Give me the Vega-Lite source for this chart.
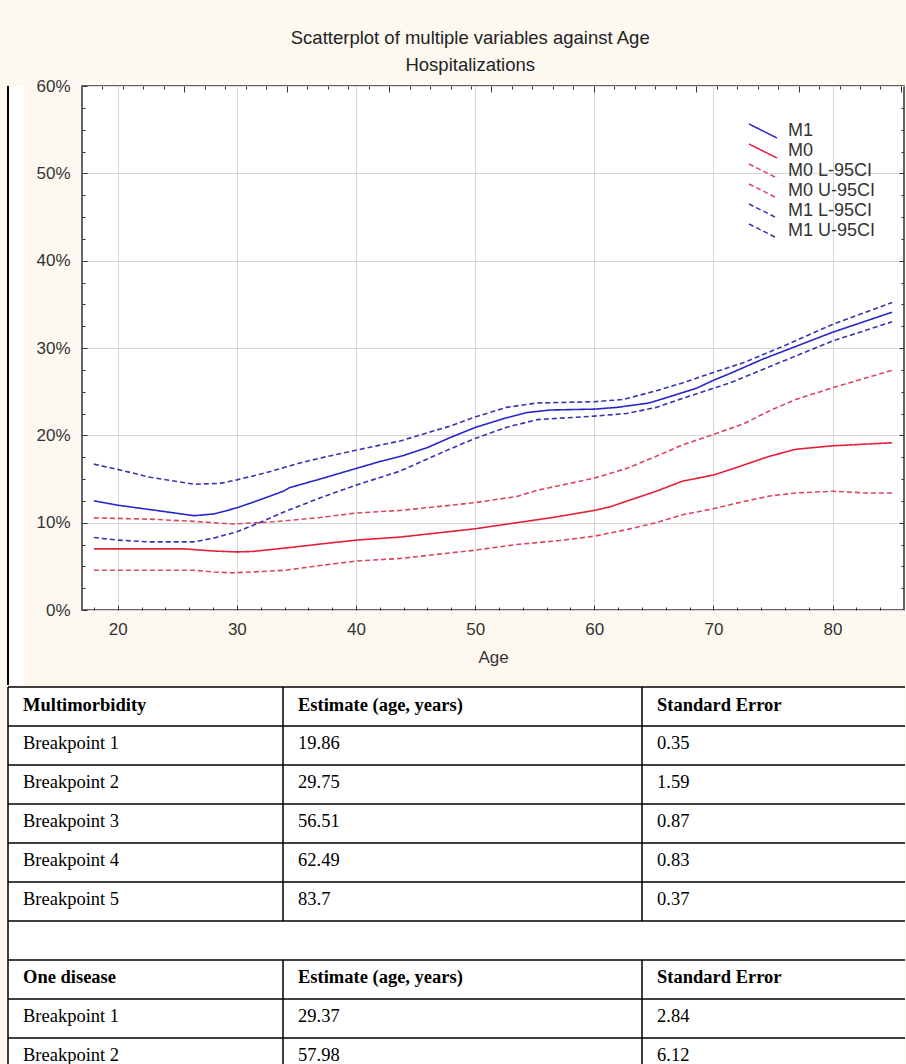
{
  "$schema": "https://vega.github.io/schema/vega-lite/v6.json",
  "background": "#fdf9f1",
  "padding": {"left": 7, "top": 27, "right": 0, "bottom": 0},
  "spacing": 0,
  "datasets": {
    "curves": [
      {"series": "M1", "age": 18, "value": 12.5}, {"series": "M1", "age": 20, "value": 12.0}, {"series": "M1", "age": 22.7, "value": 11.5}, {"series": "M1", "age": 26.4, "value": 10.8}, {"series": "M1", "age": 28.1, "value": 11.0}, {"series": "M1", "age": 30, "value": 11.7}, {"series": "M1", "age": 31.9, "value": 12.6}, {"series": "M1", "age": 33.9, "value": 13.6}, {"series": "M1", "age": 34.4, "value": 14.0}, {"series": "M1", "age": 37, "value": 15.0}, {"series": "M1", "age": 40, "value": 16.2}, {"series": "M1", "age": 42, "value": 17.0}, {"series": "M1", "age": 44, "value": 17.7}, {"series": "M1", "age": 46, "value": 18.6}, {"series": "M1", "age": 48, "value": 19.8}, {"series": "M1", "age": 50, "value": 20.9}, {"series": "M1", "age": 52.6, "value": 22.0}, {"series": "M1", "age": 54.3, "value": 22.6}, {"series": "M1", "age": 56.3, "value": 22.9}, {"series": "M1", "age": 60, "value": 23.0}, {"series": "M1", "age": 61.9, "value": 23.2}, {"series": "M1", "age": 64.6, "value": 23.7}, {"series": "M1", "age": 66.5, "value": 24.5}, {"series": "M1", "age": 68.6, "value": 25.4}, {"series": "M1", "age": 70, "value": 26.3}, {"series": "M1", "age": 71.6, "value": 27.2}, {"series": "M1", "age": 74.1, "value": 28.7}, {"series": "M1", "age": 76.1, "value": 29.75}, {"series": "M1", "age": 80, "value": 31.8}, {"series": "M1", "age": 85, "value": 34.1},
      {"series": "M0", "age": 18, "value": 7.0}, {"series": "M0", "age": 25.6, "value": 7.0}, {"series": "M0", "age": 28.1, "value": 6.75}, {"series": "M0", "age": 30, "value": 6.65}, {"series": "M0", "age": 31.3, "value": 6.7}, {"series": "M0", "age": 34.1, "value": 7.1}, {"series": "M0", "age": 37, "value": 7.55}, {"series": "M0", "age": 40, "value": 8.0}, {"series": "M0", "age": 43.7, "value": 8.35}, {"series": "M0", "age": 48, "value": 9.0}, {"series": "M0", "age": 50, "value": 9.3}, {"series": "M0", "age": 53.5, "value": 10.0}, {"series": "M0", "age": 56.3, "value": 10.55}, {"series": "M0", "age": 60, "value": 11.4}, {"series": "M0", "age": 61.3, "value": 11.8}, {"series": "M0", "age": 62.7, "value": 12.45}, {"series": "M0", "age": 65.2, "value": 13.6}, {"series": "M0", "age": 67.4, "value": 14.75}, {"series": "M0", "age": 70, "value": 15.45}, {"series": "M0", "age": 71.9, "value": 16.3}, {"series": "M0", "age": 74.7, "value": 17.6}, {"series": "M0", "age": 76.9, "value": 18.4}, {"series": "M0", "age": 80, "value": 18.8}, {"series": "M0", "age": 85, "value": 19.15},
      {"series": "M0 L-95CI", "age": 18, "value": 4.55}, {"series": "M0 L-95CI", "age": 26.4, "value": 4.55}, {"series": "M0 L-95CI", "age": 28.1, "value": 4.35}, {"series": "M0 L-95CI", "age": 29.7, "value": 4.25}, {"series": "M0 L-95CI", "age": 34.1, "value": 4.55}, {"series": "M0 L-95CI", "age": 37, "value": 5.1}, {"series": "M0 L-95CI", "age": 40, "value": 5.6}, {"series": "M0 L-95CI", "age": 43.7, "value": 5.9}, {"series": "M0 L-95CI", "age": 48, "value": 6.55}, {"series": "M0 L-95CI", "age": 50, "value": 6.85}, {"series": "M0 L-95CI", "age": 53.5, "value": 7.5}, {"series": "M0 L-95CI", "age": 57.1, "value": 7.95}, {"series": "M0 L-95CI", "age": 60, "value": 8.45}, {"series": "M0 L-95CI", "age": 62.7, "value": 9.2}, {"series": "M0 L-95CI", "age": 65.2, "value": 10.0}, {"series": "M0 L-95CI", "age": 67.4, "value": 10.9}, {"series": "M0 L-95CI", "age": 70, "value": 11.6}, {"series": "M0 L-95CI", "age": 72.5, "value": 12.4}, {"series": "M0 L-95CI", "age": 74.7, "value": 13.05}, {"series": "M0 L-95CI", "age": 76.9, "value": 13.4}, {"series": "M0 L-95CI", "age": 80, "value": 13.6}, {"series": "M0 L-95CI", "age": 82.8, "value": 13.4}, {"series": "M0 L-95CI", "age": 85, "value": 13.4},
      {"series": "M0 U-95CI", "age": 18, "value": 10.55}, {"series": "M0 U-95CI", "age": 22.7, "value": 10.4}, {"series": "M0 U-95CI", "age": 26.4, "value": 10.15}, {"series": "M0 U-95CI", "age": 29.7, "value": 9.85}, {"series": "M0 U-95CI", "age": 33.1, "value": 10.1}, {"series": "M0 U-95CI", "age": 37, "value": 10.6}, {"series": "M0 U-95CI", "age": 40, "value": 11.1}, {"series": "M0 U-95CI", "age": 43.7, "value": 11.4}, {"series": "M0 U-95CI", "age": 48, "value": 12.0}, {"series": "M0 U-95CI", "age": 50, "value": 12.3}, {"series": "M0 U-95CI", "age": 53.5, "value": 13.0}, {"series": "M0 U-95CI", "age": 55.2, "value": 13.7}, {"series": "M0 U-95CI", "age": 60, "value": 15.1}, {"series": "M0 U-95CI", "age": 62.7, "value": 16.2}, {"series": "M0 U-95CI", "age": 65.2, "value": 17.6}, {"series": "M0 U-95CI", "age": 67.4, "value": 18.9}, {"series": "M0 U-95CI", "age": 70, "value": 20.1}, {"series": "M0 U-95CI", "age": 72.5, "value": 21.3}, {"series": "M0 U-95CI", "age": 74.7, "value": 22.8}, {"series": "M0 U-95CI", "age": 76.9, "value": 24.1}, {"series": "M0 U-95CI", "age": 80, "value": 25.45}, {"series": "M0 U-95CI", "age": 85, "value": 27.45},
      {"series": "M1 L-95CI", "age": 18, "value": 8.3}, {"series": "M1 L-95CI", "age": 20, "value": 8.0}, {"series": "M1 L-95CI", "age": 22.7, "value": 7.8}, {"series": "M1 L-95CI", "age": 26.4, "value": 7.8}, {"series": "M1 L-95CI", "age": 28.1, "value": 8.25}, {"series": "M1 L-95CI", "age": 30, "value": 8.95}, {"series": "M1 L-95CI", "age": 31.9, "value": 10.0}, {"series": "M1 L-95CI", "age": 33.9, "value": 11.2}, {"series": "M1 L-95CI", "age": 37, "value": 12.85}, {"series": "M1 L-95CI", "age": 40, "value": 14.3}, {"series": "M1 L-95CI", "age": 43.7, "value": 15.9}, {"series": "M1 L-95CI", "age": 48, "value": 18.5}, {"series": "M1 L-95CI", "age": 50, "value": 19.65}, {"series": "M1 L-95CI", "age": 52.6, "value": 20.9}, {"series": "M1 L-95CI", "age": 55.2, "value": 21.8}, {"series": "M1 L-95CI", "age": 60, "value": 22.2}, {"series": "M1 L-95CI", "age": 62.7, "value": 22.5}, {"series": "M1 L-95CI", "age": 65.2, "value": 23.2}, {"series": "M1 L-95CI", "age": 68, "value": 24.5}, {"series": "M1 L-95CI", "age": 71.4, "value": 26.0}, {"series": "M1 L-95CI", "age": 75.5, "value": 28.3}, {"series": "M1 L-95CI", "age": 80, "value": 30.8}, {"series": "M1 L-95CI", "age": 85, "value": 33.0},
      {"series": "M1 U-95CI", "age": 18, "value": 16.7}, {"series": "M1 U-95CI", "age": 20, "value": 16.1}, {"series": "M1 U-95CI", "age": 22.7, "value": 15.2}, {"series": "M1 U-95CI", "age": 26.4, "value": 14.4}, {"series": "M1 U-95CI", "age": 28.6, "value": 14.5}, {"series": "M1 U-95CI", "age": 30, "value": 14.9}, {"series": "M1 U-95CI", "age": 32.4, "value": 15.7}, {"series": "M1 U-95CI", "age": 35.2, "value": 16.8}, {"series": "M1 U-95CI", "age": 37, "value": 17.4}, {"series": "M1 U-95CI", "age": 40, "value": 18.3}, {"series": "M1 U-95CI", "age": 43.7, "value": 19.35}, {"series": "M1 U-95CI", "age": 46.5, "value": 20.5}, {"series": "M1 U-95CI", "age": 48, "value": 21.1}, {"series": "M1 U-95CI", "age": 50, "value": 22.1}, {"series": "M1 U-95CI", "age": 52.6, "value": 23.2}, {"series": "M1 U-95CI", "age": 55.2, "value": 23.7}, {"series": "M1 U-95CI", "age": 60, "value": 23.85}, {"series": "M1 U-95CI", "age": 62.4, "value": 24.1}, {"series": "M1 U-95CI", "age": 65.2, "value": 25.1}, {"series": "M1 U-95CI", "age": 67.4, "value": 26.0}, {"series": "M1 U-95CI", "age": 70, "value": 27.2}, {"series": "M1 U-95CI", "age": 72.5, "value": 28.3}, {"series": "M1 U-95CI", "age": 75.6, "value": 30.05}, {"series": "M1 U-95CI", "age": 80, "value": 32.7}, {"series": "M1 U-95CI", "age": 85, "value": 35.2}
    ],
    "table": [
      {"r": 0, "c": 0, "t": "Multimorbidity", "kind": "header"},
      {"r": 0, "c": 1, "t": "Estimate (age, years)", "kind": "header"},
      {"r": 0, "c": 2, "t": "Standard Error", "kind": "header"},
      {"r": 1, "c": 0, "t": "Breakpoint 1", "kind": "body"},
      {"r": 1, "c": 1, "t": "19.86", "kind": "body"},
      {"r": 1, "c": 2, "t": "0.35", "kind": "body"},
      {"r": 2, "c": 0, "t": "Breakpoint 2", "kind": "body"},
      {"r": 2, "c": 1, "t": "29.75", "kind": "body"},
      {"r": 2, "c": 2, "t": "1.59", "kind": "body"},
      {"r": 3, "c": 0, "t": "Breakpoint 3", "kind": "body"},
      {"r": 3, "c": 1, "t": "56.51", "kind": "body"},
      {"r": 3, "c": 2, "t": "0.87", "kind": "body"},
      {"r": 4, "c": 0, "t": "Breakpoint 4", "kind": "body"},
      {"r": 4, "c": 1, "t": "62.49", "kind": "body"},
      {"r": 4, "c": 2, "t": "0.83", "kind": "body"},
      {"r": 5, "c": 0, "t": "Breakpoint 5", "kind": "body"},
      {"r": 5, "c": 1, "t": "83.7", "kind": "body"},
      {"r": 5, "c": 2, "t": "0.37", "kind": "body"},
      {"r": 7, "c": 0, "t": "One disease", "kind": "header"},
      {"r": 7, "c": 1, "t": "Estimate (age, years)", "kind": "header"},
      {"r": 7, "c": 2, "t": "Standard Error", "kind": "header"},
      {"r": 8, "c": 0, "t": "Breakpoint 1", "kind": "body"},
      {"r": 8, "c": 1, "t": "29.37", "kind": "body"},
      {"r": 8, "c": 2, "t": "2.84", "kind": "body"},
      {"r": 9, "c": 0, "t": "Breakpoint 2", "kind": "body"},
      {"r": 9, "c": 1, "t": "57.98", "kind": "body"},
      {"r": 9, "c": 2, "t": "6.12", "kind": "body"}
    ]
  },
  "vconcat": [
    {
      "hconcat": [
        {
          "width": 16,
          "height": 599,
          "view": {"fill": "white", "stroke": null},
          "data": {"values": [{}]},
          "mark": {"type": "rule", "color": "black", "strokeWidth": 2},
          "encoding": {"x": {"datum": 0, "type": "quantitative", "scale": {"domain": [0, 1]}, "axis": null}}
        },
        {
          "width": 822,
          "height": 524,
          "view": {"stroke": "#333333", "strokeWidth": 1.5, "fill": "white"},
          "title": {"text": ["Scatterplot of multiple variables against Age", "Hospitalizations"], "fontSize": 18.5, "font": "Liberation Sans", "fontWeight": "normal", "color": "#222222", "anchor": "middle", "frame": "bounds", "offset": 3, "lineHeight": 27},
          "resolve": {"scale": {"x": "independent"}, "axis": {"x": "independent", "y": "independent"}},
          "layer": [
            {
              "data": {"name": "curves"},
              "mark": {"type": "line", "strokeWidth": 1.6},
              "encoding": {
                "x": {"field": "age", "type": "quantitative", "scale": {"domain": [17, 86], "nice": false, "zero": false},
                  "axis": {"orient": "bottom", "values": [20, 30, 40, 50, 60, 70, 80], "title": "Age", "grid": true, "domain": false, "tickSize": -5, "labelPadding": 16, "titlePadding": 12, "labelFlush": false}},
                "y": {"field": "value", "type": "quantitative", "scale": {"domain": [0, 60], "nice": false, "zero": false},
                  "axis": {"orient": "left", "values": [0, 10, 20, 30, 40, 50, 60], "labelExpr": "datum.value + '%'", "title": null, "grid": true, "domain": false, "tickSize": -5, "labelPadding": 17}},
                "color": {"field": "series", "type": "nominal",
                  "scale": {"domain": ["M1", "M0", "M0 L-95CI", "M0 U-95CI", "M1 L-95CI", "M1 U-95CI"], "range": ["#2626c9", "#e3203a", "#dd4460", "#dd4460", "#3535b0", "#3535b0"]},
                  "legend": {"orient": "none", "legendX": 746, "legendY": 36, "title": null, "symbolType": "M-2,-1L2,1", "symbolSize": 196, "symbolStrokeWidth": 1.5, "labelFontSize": 18, "labelColor": "#333333", "labelOffset": 16, "rowPadding": 0, "padding": 0}},
                "strokeDash": {"field": "series", "type": "nominal",
                  "scale": {"domain": ["M1", "M0", "M0 L-95CI", "M0 U-95CI", "M1 L-95CI", "M1 U-95CI"], "range": [[1, 0], [1, 0], [5, 3], [5, 3], [5, 3], [5, 3]]},
                  "legend": {"orient": "none", "legendX": 746, "legendY": 36, "title": null, "symbolType": "M-2,-1L2,1", "symbolSize": 196, "symbolStrokeWidth": 1.5, "labelFontSize": 18, "labelColor": "#333333", "labelOffset": 16, "rowPadding": 0, "padding": 0}}
              }
            },
            {
              "data": {"values": [{}]},
              "mark": {"type": "point", "opacity": 0},
              "encoding": {
                "x": {"datum": 20, "type": "quantitative", "scale": {"domain": [17, 86], "nice": false, "zero": false},
                  "axis": {"orient": "bottom", "values": [18, 22, 24, 26, 28, 32, 34, 36, 38, 42, 44, 46, 48, 52, 54, 56, 58, 62, 64, 66, 68, 72, 74, 76, 78, 82, 84], "labels": false, "grid": false, "domain": false, "tickSize": -3, "title": null, "minExtent": 0}},
                "y": {"datum": 10, "type": "quantitative",
                  "axis": {"orient": "left", "values": [2.5, 5, 7.5, 12.5, 15, 17.5, 22.5, 25, 27.5, 32.5, 35, 37.5, 42.5, 45, 47.5, 52.5, 55, 57.5], "labels": false, "grid": false, "domain": false, "tickSize": -3, "title": null, "minExtent": 0}}
              }
            },
            {
              "data": {"values": [{}]},
              "mark": {"type": "point", "opacity": 0},
              "encoding": {
                "x": {"datum": 1, "type": "quantitative", "scale": {"domain": [0, 8.03], "nice": false, "zero": false},
                  "axis": {"orient": "top", "values": [0.2, 0.4, 0.6, 0.8, 1.2, 1.4, 1.6, 1.8, 2.2, 2.4, 2.6, 2.8, 3.2, 3.4, 3.6, 3.8, 4.2, 4.4, 4.6, 4.8, 5.2, 5.4, 5.6, 5.8, 6.2, 6.4, 6.6, 6.8, 7.2, 7.4, 7.6, 7.8], "labels": false, "grid": false, "domain": false, "tickSize": -3, "title": null, "minExtent": 0}},
                "y": {"datum": 10, "type": "quantitative",
                  "axis": {"orient": "right", "values": [2.5, 5, 7.5, 12.5, 15, 17.5, 22.5, 25, 27.5, 32.5, 35, 37.5, 42.5, 45, 47.5, 52.5, 55, 57.5], "labels": false, "grid": false, "domain": false, "tickSize": -3, "title": null, "minExtent": 0}}
              }
            },
            {
              "data": {"values": [{}]},
              "mark": {"type": "point", "opacity": 0},
              "encoding": {
                "x": {"datum": 1, "type": "quantitative", "scale": {"domain": [0, 8.03], "nice": false, "zero": false},
                  "axis": {"orient": "top", "values": [1, 2, 3, 4, 5, 6, 7, 8], "labels": false, "grid": false, "domain": false, "tickSize": -6, "title": null, "minExtent": 0}},
                "y": {"datum": 10, "type": "quantitative",
                  "axis": {"orient": "right", "values": [10, 20, 30, 40, 50], "labels": false, "grid": false, "domain": false, "tickSize": -5, "title": null, "minExtent": 0}}
              }
            }
          ]
        }
      ],
      "spacing": 58,
      "bounds": "flush"
    },
    {
      "width": 897,
      "height": 380,
      "view": {"fill": "white", "stroke": null},
      "layer": [
        {
          "data": {"values": [{"b": 0}, {"b": 1}, {"b": 2}, {"b": 3}, {"b": 4}, {"b": 5}, {"b": 6}, {"b": 7}, {"b": 8}, {"b": 9}]},
          "mark": {"type": "rule", "color": "black", "strokeWidth": 1.5},
          "encoding": {
            "y": {"field": "b", "type": "quantitative", "scale": {"domain": [0, 9.7436], "reverse": true, "nice": false, "zero": false, "clamp": true}, "axis": null},
            "x": {"datum": 0, "type": "quantitative", "scale": {"domain": [0, 1, 2, 3], "range": [0, 275, 634, 897], "nice": false, "zero": false}, "axis": null},
            "x2": {"datum": 3}
          }
        },
        {
          "data": {"values": [{"c": 0, "r0": 0, "r1": 10}, {"c": 1, "r0": 0, "r1": 6}, {"c": 1, "r0": 7, "r1": 10}, {"c": 2, "r0": 0, "r1": 6}, {"c": 2, "r0": 7, "r1": 10}]},
          "mark": {"type": "rule", "color": "black", "strokeWidth": 1.5},
          "encoding": {
            "x": {"field": "c", "type": "quantitative", "axis": null},
            "y": {"field": "r0", "type": "quantitative", "axis": null},
            "y2": {"field": "r1"}
          }
        },
        {
          "data": {"name": "table"},
          "transform": [{"filter": "datum.kind === 'header'"}],
          "mark": {"type": "text", "align": "left", "baseline": "middle", "dx": 15, "dy": 17.5, "font": "Liberation Serif", "fontSize": 18.5, "fontWeight": "bold", "color": "black"},
          "encoding": {
            "x": {"field": "c", "type": "quantitative", "axis": null},
            "y": {"field": "r", "type": "quantitative", "axis": null},
            "text": {"field": "t"}
          }
        },
        {
          "data": {"name": "table"},
          "transform": [{"filter": "datum.kind === 'body'"}],
          "mark": {"type": "text", "align": "left", "baseline": "middle", "dx": 15, "dy": 17.5, "font": "Liberation Serif", "fontSize": 18.5, "fontWeight": "normal", "color": "black"},
          "encoding": {
            "x": {"field": "c", "type": "quantitative", "axis": null},
            "y": {"field": "r", "type": "quantitative", "axis": null},
            "text": {"field": "t"}
          }
        }
      ]
    }
  ],
  "config": {
    "font": "Liberation Sans",
    "axis": {"labelFont": "Liberation Sans", "titleFont": "Liberation Sans", "labelColor": "#333333", "titleColor": "#333333", "tickColor": "#333333", "labelFontSize": 17, "titleFontSize": 17, "titleFontWeight": "normal", "gridColor": "#d6d6d6", "gridWidth": 1, "tickWidth": 1},
    "legend": {"labelFont": "Liberation Sans"}
  }
}
